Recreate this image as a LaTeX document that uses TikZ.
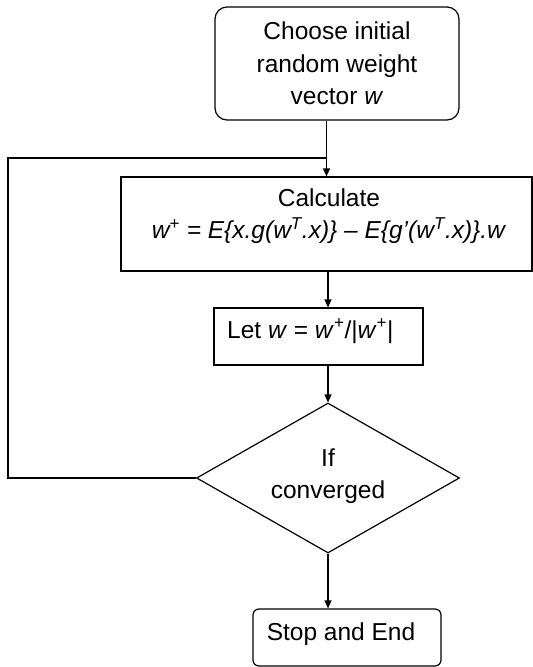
\documentclass[tikz,border=0pt]{standalone}
\usepackage{fontspec}
\setmainfont{Liberation Sans}
\usetikzlibrary{arrows.meta,shapes.geometric}
\begin{document}
\begin{tikzpicture}[x=1pt,y=-1pt,
  every node/.style={font=\fontsize{24.5}{32.5}\selectfont, inner sep=0pt},
  box/.style={draw, line width=1.2pt},
  rbox/.style={box, rounded corners=12pt},
  arr/.style={line width=1.3pt, -{Triangle[length=8pt,width=7pt]}},
  ln/.style={line width=1.3pt}]
\useasboundingbox (0,0) rectangle (533,667);
\node[rbox, minimum width=244pt, minimum height=113pt, align=center] (top) at (337,63.5)
  {Choose initial\\random weight\\vector \textit{w}};
\node[box, minimum width=411pt, minimum height=94pt] (calc) at (326.5,224) {};
\node[align=center] (calctext) at (329,216)
  {Calculate\\\textit{w\textsuperscript{+} = E\{x.g(w\textsuperscript{T}.x)\} – E\{g’(w\textsuperscript{T}.x)\}.w}};
\node[box, minimum width=209pt, minimum height=57pt] (let) at (318.5,336.5) {};
\node[anchor=base west] (lettext) at (227,338) {Let \textit{w} = \textit{w}\textsuperscript{+}/|\textit{w}\textsuperscript{+}|};
\node[diamond, draw, line width=1.2pt, minimum width=263pt, minimum height=150pt, aspect=1.75] (dia) at (328,478) {};
\node[align=center] (diatext) at (328,476) {If\\converged};
\node[box, rounded corners=6pt, minimum width=188pt, minimum height=57pt] (stop) at (347,637.5) {};
\node[anchor=base] (stoptext) at (341,640) {Stop and End};
\coordinate (j) at (326.5,158);
\coordinate (lc) at (8,158);
\draw[arr] (calc.north |- top.south) -- (calc.north);
\draw[arr] (calc.south -| dia.north) -- (let.north -| dia.north);
\draw[arr] (let.south -| dia.north) -- (dia.north);
\draw[arr] (dia.south) -- (stop.north -| dia.south);
\draw[ln] (dia.west) -| (lc) -- (j);
\end{tikzpicture}
\end{document}
